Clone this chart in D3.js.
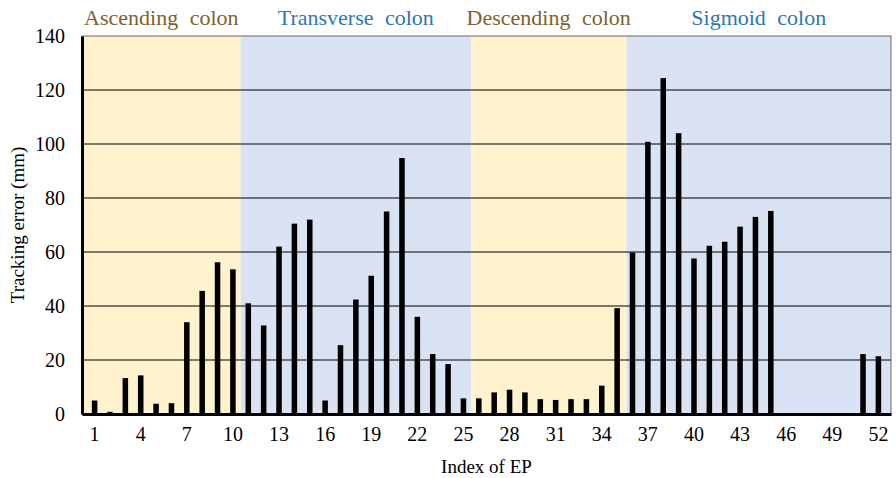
<!DOCTYPE html>
<html>
<head>
<meta charset="utf-8">
<script src="https://cdn.jsdelivr.net/npm/d3@7/dist/d3.min.js"></script>
<style>
  body { margin: 0; background: #fff; }
  svg text { font-family: "Liberation Serif", "Times New Roman", serif; }
</style>
</head>
<body>
<svg id="chart" width="896" height="478"></svg>
<script>
// --- data ---
const epIndex = d3.range(1, 53);
const trackingError = [
  5, 0.8, 13.3, 14.3, 3.8, 4, 34, 45.6, 56.2, 53.6,
  41, 32.8, 62, 70.5, 72, 5, 25.5, 42.4, 51.2, 75,
  94.8, 36, 22.2, 18.5, 5.8, 5.8, 8, 9, 8, 5.5,
  5.2, 5.5, 5.5, 10.5, 39.2, 59.8, 100.8, 124.4, 104, 57.6,
  62.3, 63.8, 69.4, 73, 75.2, 0, 0, 0, 0, 0,
  22.2, 21.4
];
const regionNames = ["Ascending colon", "Transverse colon", "Descending colon", "Sigmoid colon"];
const regionStart = [0.5, 10.7, 25.5, 35.5];
const regionEnd = [10.7, 25.5, 35.5, 52.5];
const yTicks = [0, 20, 40, 60, 80, 100, 120, 140];
const xTicks = [1, 4, 7, 10, 13, 16, 19, 22, 25, 28, 31, 34, 37, 40, 43, 46, 49, 52];

// --- layout ---
const svg = d3.select("#chart");
const m = { left: 82, right: 891, top: 36, bottom: 414 };
const serif = "'Liberation Serif', 'Times New Roman', serif";
const regionFill = ["#fff2cc", "#dae3f3", "#fff2cc", "#dae3f3"];
const regionText = ["#7f6030", "#2e75b6", "#7f6030", "#2e75b6"];

const x = d3.scaleBand().domain(epIndex).range([m.left, m.right]).padding(0.64);
const xPos = d3.scaleLinear().domain([0.5, 52.5]).range([m.left, m.right]);
const y = d3.scaleLinear().domain([0, 140]).range([m.bottom, m.top]);

// background regions
svg.selectAll("rect.region")
  .data(regionNames)
  .join("rect")
  .attr("class", "region")
  .attr("x", (d, i) => xPos(regionStart[i]))
  .attr("width", (d, i) => xPos(regionEnd[i]) - xPos(regionStart[i]))
  .attr("y", m.top)
  .attr("height", m.bottom - m.top)
  .attr("fill", (d, i) => regionFill[i]);

// region labels
svg.selectAll("text.region")
  .data(regionNames)
  .join("text")
  .attr("class", "region")
  .attr("x", (d, i) => (xPos(regionStart[i]) + xPos(regionEnd[i])) / 2)
  .attr("y", 25)
  .attr("text-anchor", "middle")
  .style("font-family", serif)
  .attr("font-size", 22)
  .attr("word-spacing", 6)
  .attr("fill", (d, i) => regionText[i])
  .text(d => d);

// gridlines
svg.selectAll("line.grid")
  .data(yTicks.filter(t => t > 0 && t < 140))
  .join("line")
  .attr("class", "grid")
  .attr("x1", m.left).attr("x2", m.right)
  .attr("y1", d => y(d)).attr("y2", d => y(d))
  .attr("stroke", "#000")
  .attr("stroke-width", 1);

// frame (top/right thin)
svg.append("rect")
  .attr("x", m.left).attr("y", m.top)
  .attr("width", m.right - m.left).attr("height", m.bottom - m.top)
  .attr("fill", "none")
  .attr("stroke", "#666")
  .attr("stroke-width", 1);

// bars
svg.selectAll("rect.bar")
  .data(epIndex.filter((d, i) => trackingError[i] > 0))
  .join("rect")
  .attr("class", "bar")
  .attr("x", d => x(d))
  .attr("width", x.bandwidth())
  .attr("y", d => y(trackingError[d - 1]))
  .attr("height", d => y(0) - y(trackingError[d - 1]))
  .attr("fill", "#000");

// axes
const yAxis = svg.append("g")
  .attr("transform", `translate(${m.left},0)`)
  .call(d3.axisLeft(y).tickValues(yTicks).tickSize(0).tickPadding(17));
yAxis.attr("font-family", null);
yAxis.select(".domain").attr("stroke", "#000").attr("stroke-width", 3);
yAxis.selectAll("text").attr("font-size", 20).attr("fill", "#000")
  .style("font-family", serif);

const xAxis = svg.append("g")
  .attr("transform", `translate(0,${m.bottom})`)
  .call(d3.axisBottom(x).tickValues(xTicks).tickSize(0).tickPadding(13));
xAxis.attr("font-family", null);
xAxis.select(".domain").attr("stroke", "#000").attr("stroke-width", 3);
xAxis.selectAll("text").attr("font-size", 20).attr("fill", "#000")
  .style("font-family", serif);

// axis titles
svg.append("text")
  .attr("x", (m.left + m.right) / 2)
  .attr("y", 473)
  .attr("text-anchor", "middle")
  .style("font-family", serif)
  .attr("font-size", 19)
  .text("Index of EP");

svg.append("text")
  .attr("transform", `translate(24,${(m.top + m.bottom) / 2}) rotate(-90)`)
  .attr("text-anchor", "middle")
  .style("font-family", serif)
  .attr("font-size", 19)
  .text("Tracking error (mm)");
</script>
</body>
</html>
